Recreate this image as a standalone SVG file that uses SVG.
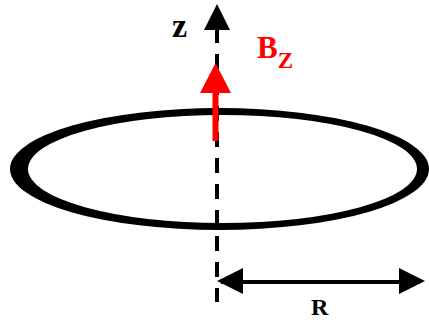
<svg xmlns="http://www.w3.org/2000/svg" width="429" height="320" viewBox="0 0 429 320">
<style>
.lbl{font-family:"Liberation Serif","Times New Roman",serif;font-weight:bold}
</style>
<rect width="429" height="320" fill="#fff"/>
<g id="ring">
<path fill-rule="evenodd" fill="#000" d="M10,169 a209.5,61 0 1,0 419,0 a209.5,61 0 1,0 -419,0 Z M28,169 a194.5,54 0 1,0 389,0 a194.5,54 0 1,0 -389,0 Z"/>
</g>
<g id="connectors">
<line x1="217" y1="28" x2="217" y2="302" stroke="#000" stroke-width="4" stroke-dasharray="15,11"/>
<polygon points="217,4 204,30 230,30" fill="#000"/>
<line x1="221" y1="282" x2="420" y2="282" stroke="#000" stroke-width="4"/>
<polygon points="217,281 243,268 243,294" fill="#000"/>
<polygon points="425,281 399,268 399,294" fill="#000"/>
</g>
<g id="bz-arrow">
<rect x="212.5" y="90" width="6" height="51" fill="#f00"/>
<polygon points="215.5,63 200,93 231,93" fill="#f00"/>
</g>
<g id="labels">
<text class="lbl" x="172" y="37" font-size="34" fill="#000">z</text>
<text class="lbl" x="257" y="58" font-size="31" fill="#f00">B<tspan font-size="23" dy="10">Z</tspan></text>
<text class="lbl" x="311" y="315" font-size="24" fill="#000">R</text>
</g>
</svg>
